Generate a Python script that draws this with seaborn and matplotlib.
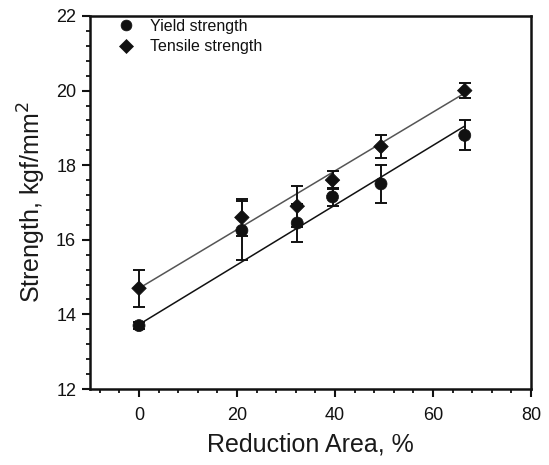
import numpy as np
import pandas as pd
import matplotlib
matplotlib.use("Agg")
import matplotlib.pyplot as plt
import seaborn as sns
from matplotlib.ticker import MultipleLocator

# ---- data ----
reduction = [0, 21, 32.3, 39.5, 49.4, 66.5]
yield_strength = [13.7, 16.25, 16.45, 17.15, 17.5, 18.8]
yield_err = [0.1, 0.8, 0.5, 0.25, 0.5, 0.4]
tensile_strength = [14.7, 16.6, 16.9, 17.6, 18.5, 20.0]
tensile_err = [0.5, 0.5, 0.55, 0.25, 0.3, 0.2]
# linear fits (intercept, slope) as drawn in the figure
yield_fit = [13.73, 0.080]
tensile_fit = [14.70, 0.0787]
fit_range = [0, 66.5]

series_names = ["Yield strength", "Tensile strength"]
x_ticks = [0, 20, 40, 60, 80]
y_ticks = [12, 14, 16, 18, 20, 22]

sns.set_theme(style="white")
plt.rcParams["font.family"] = ["Liberation Sans", "DejaVu Sans"]

df = pd.DataFrame({
    "x": reduction * 2,
    "y": yield_strength + tensile_strength,
    "err": yield_err + tensile_err,
    "series": [series_names[0]] * len(reduction) + [series_names[1]] * len(reduction),
})

fit_rows = []
for name, (b, m) in zip(series_names, [yield_fit, tensile_fit]):
    for xv in fit_range:
        fit_rows.append({"x": xv, "y": b + m * xv, "series": name})
fit_df = pd.DataFrame(fit_rows)

fig = plt.figure(figsize=(5.49, 4.65), dpi=100)
ax = fig.add_axes([0.164, 0.1634, 0.803, 0.8022])

# fit lines
line_colors = {series_names[0]: "#111111", series_names[1]: "#555555"}
for name in series_names:
    sub = fit_df[fit_df["series"] == name]
    sns.lineplot(data=sub, x="x", y="y", ax=ax, color=line_colors[name],
                 lw=1.1, legend=False, zorder=2)

# error bars
for name in series_names:
    sub = df[df["series"] == name]
    ax.errorbar(sub["x"], sub["y"], yerr=sub["err"], fmt="none",
                ecolor="#111111", elinewidth=1.4, capsize=4, capthick=1.4, zorder=3)

# markers
sns.scatterplot(data=df, x="x", y="y", hue="series", style="series",
                markers={series_names[0]: "o", series_names[1]: "D"},
                palette={series_names[0]: "#111111", series_names[1]: "#111111"},
                size="series", sizes={series_names[0]: 75, series_names[1]: 55},
                edgecolor="#111111", linewidth=0.5, ax=ax, zorder=4)

ax.set_xlim(-10, 80)
ax.set_ylim(12, 22)
ax.set_xticks(x_ticks)
ax.set_yticks(y_ticks)
ax.xaxis.set_minor_locator(MultipleLocator(4))
ax.yaxis.set_minor_locator(MultipleLocator(0.4))
ax.tick_params(which="major", direction="out", length=6, width=1.5,
               labelsize=13, colors="#111111", bottom=True, left=True, pad=4)
ax.tick_params(axis="x", which="major", pad=7)
ax.tick_params(which="minor", direction="out", length=3, width=1.3,
               bottom=True, left=True, colors="#111111")
for sp in ax.spines.values():
    sp.set_linewidth(1.8)
    sp.set_color("#111111")
    sp.set_visible(True)

ax.set_xlabel("Reduction Area, %", fontsize=18, color="#1a1a1a", labelpad=6)
ax.set_ylabel("Strength, kgf/mm$^2$", fontsize=18, color="#1a1a1a", labelpad=6)

handles, labels = ax.get_legend_handles_labels()
leg = ax.legend(handles, labels, loc="upper left", frameon=False, fontsize=11.5,
                handletextpad=0.5, borderaxespad=0.0, labelspacing=0.35,
                markerscale=0.9, bbox_to_anchor=(0.03, 1.01))
for t in leg.get_texts():
    t.set_color("#111111")

fig.savefig("out.png", dpi=100)
